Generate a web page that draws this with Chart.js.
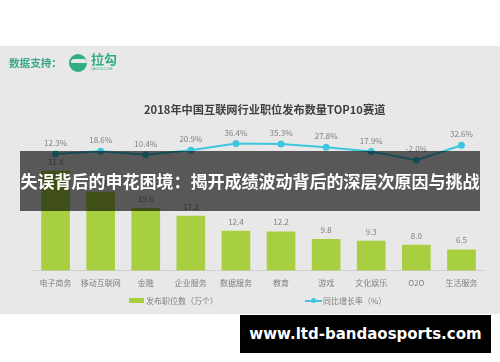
<!DOCTYPE html>
<html>
<head>
<meta charset="utf-8">
<script src="https://cdn.jsdelivr.net/npm/chart.js@4"></script>
<style>
    html, body { margin: 0; padding: 0; background: #fff; width: 500px; height: 362px; overflow: hidden; font-family: "Noto Sans CJK SC", sans-serif; }
    #panel { position: absolute; left: 0; top: 46px; width: 500px; height: 268px; background: #e8e8e8; }
    canvas { position: absolute; left: 0; top: 0; }
    .abs { position: absolute; white-space: nowrap; }
    #support { left: 9px; top: 55px; font: bold 10.6px/16px "Noto Sans CJK SC"; color: #3aa88a; }
    #logo { left: 69px; top: 54px; width: 18px; height: 18px; border-radius: 50%; background: #2fae85; overflow: hidden; }
    #logo i { position: absolute; left: 2px; top: 5px; width: 16px; height: 4px; background: #e8e8e8; border-radius: 4px 4px 1px 1px; }
    #brand { left: 91px; top: 50px; font: bold 13px/18px "Noto Sans CJK SC"; color: #2fae85; }
    #brand-sub { left: 91px; top: 67px; font: 3.5px/4px "Liberation Sans"; color: #2fae85; }
    #title { left: 144px; top: 100px; font: bold 11.2px/18px "Noto Sans CJK SC"; color: #3f3f3f; }
    .legend { top: 293px; font: 8px/16px "Noto Sans CJK SC"; color: #808080; }
    #swatch-bar { position: absolute; left: 129px; top: 298px; width: 15px; height: 5px; background: #a8cf40; }
    #swatch-line { position: absolute; left: 305px; top: 299.5px; width: 17px; height: 2px; background: #3ec6de; }
    #swatch-line i { position: absolute; left: 6px; top: -1.5px; width: 5px; height: 5px; border-radius: 50%; background: #3ec6de; }
    #overlay { left: 20px; top: 151px; width: 460px; height: 60px; background: rgba(0, 0, 0, 0.62); color: #fff; font: bold 17px/60px "Noto Sans CJK SC"; text-align: center; }
    #site { left: 240px; top: 315px; width: 251px; height: 38px; background: #000; color: #fff; font: bold 15px/38px "DejaVu Sans"; text-align: center; }
</style>
</head>
<body>
<div id="panel"></div>
<canvas id="chart" width="500" height="362"></canvas>
<div class="abs" id="support">数据支持：</div>
<div class="abs" id="logo"><i></i></div>
<div class="abs" id="brand">拉勾</div>
<div class="abs" id="brand-sub">LAGOU.COM</div>
<div class="abs" id="title"></div>
<div id="swatch-bar"></div>
<div class="abs legend" id="legend-bar" style="left:146px"></div>
<div id="swatch-line"><i></i></div>
<div class="abs legend" id="legend-line" style="left:323px"></div>
<div class="abs" id="overlay">失误背后的申花困境：揭开成绩波动背后的深层次原因与挑战</div>
<div class="abs" id="site">www.ltd-bandaosports.com</div>
<script>
const categories = ['电子商务', '移动互联网', '金融', '企业服务', '数据服务', '教育', '游戏', '文化娱乐', 'O2O', '生活服务'];
const jobCounts = [31.4, 24.8, 19.6, 17.2, 12.4, 12.2, 9.8, 9.3, 8.0, 6.5];
const growthRates = [12.3, 18.6, 10.4, 20.9, 36.4, 35.3, 27.8, 17.9, -2.0, 32.6];
const chartTitle = '2018年中国互联网行业职位发布数量TOP10赛道';
const barLabel = '发布职位数（万个）';
const lineLabel = '同比增长率（%）';

const green = '#a8cf40';
const cyan = '#3ec6de';
const grey = '#808080';
const cjk = '"Noto Sans CJK SC"';

// title and legend sit in the page, off-centre like the source
document.getElementById('title').innerText = chartTitle;
document.getElementById('legend-bar').innerText = barLabel;
document.getElementById('legend-line').innerText = lineLabel;

// value labels above bars and points
const valueLabels = {
    id: 'valueLabels',
    afterDatasetsDraw(chart) {
        const ctx = chart.ctx;
        ctx.save();
        ctx.textAlign = 'center';
        ctx.textBaseline = 'middle';
        ctx.fillStyle = grey;
        ctx.font = '8px ' + cjk;
        chart.getDatasetMeta(0).data.forEach((bar, i) => {
            ctx.fillText(jobCounts[i].toFixed(1), bar.x, bar.y - 9.5);
        });
        chart.getDatasetMeta(1).data.forEach((pt, i) => {
            ctx.fillText(growthRates[i].toFixed(1) + '%', pt.x, pt.y - 11);
        });
        ctx.restore();
    }
};

new Chart(document.getElementById('chart'), {
    data: {
        labels: categories,
        datasets: [
            {
                type: 'bar',
                label: barLabel,
                data: jobCounts,
                yAxisID: 'y',
                backgroundColor: green,
                barThickness: 28,
                order: 2
            },
            {
                type: 'line',
                label: lineLabel,
                data: growthRates,
                yAxisID: 'y2',
                borderColor: cyan,
                backgroundColor: cyan,
                borderWidth: 2,
                pointRadius: 2.5,
                tension: 0,
                order: 1
            }
        ]
    },
    options: {
        responsive: false,
        animation: false,
        layout: { padding: { left: 33, right: 16, top: 130, bottom: 66 } },
        plugins: {
            legend: { display: false },
            tooltip: { enabled: false }
        },
        scales: {
            x: {
                grid: { display: false, drawTicks: false },
                border: { color: '#cfcfcf' },
                ticks: { color: grey, font: { family: cjk, size: 8 }, maxRotation: 0, autoSkip: false, padding: 8 }
            },
            y: { display: false, min: 0, max: 44.4 },
            y2: { display: false, min: -258, max: 68 }
        }
    },
    plugins: [valueLabels]
});
</script>
</body>
</html>
